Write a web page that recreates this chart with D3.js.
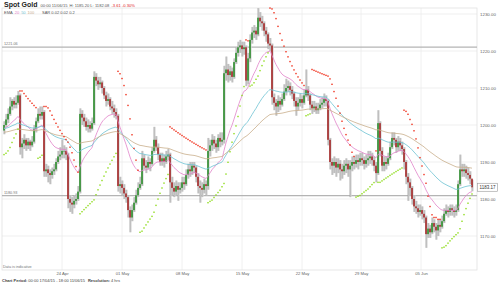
<!DOCTYPE html>
<html><head><meta charset="utf-8">
<script src="https://cdn.jsdelivr.net/npm/d3@7"></script>
<style>body{margin:0;background:#fff}svg{display:block}text{font-family:"Liberation Sans",Arial,sans-serif}</style>
</head><body><svg id="c" width="500" height="285"></svg>
<script>
// ---- data (Spot Gold, 4-hour bars) ----
const closes = [
1200.0,1201.5,1203.0,1205.0,1206.5,1205.5,1206.0,1208.0,1194.0,1195.0,
1196.0,1194.5,1195.5,1194.5,1195.5,1199.0,1201.0,1203.0,1202.5,1203.5,
1187.5,1188.0,1187.0,1186.5,1187.5,1188.0,1190.0,1191.5,1192.0,1193.0,
1193.0,1192.0,1180.0,1179.0,1178.5,1179.5,1180.0,1182.0,1203.0,1202.0,
1201.0,1199.5,1200.0,1199.0,1200.5,1213.0,1212.0,1211.0,1211.5,1210.0,
1208.0,1206.5,1207.0,1205.0,1204.5,1203.5,1202.5,1183.5,1184.0,1183.0,
1181.5,1180.5,1177.0,1175.0,1177.0,1179.0,1181.0,1183.0,1184.0,1191.0,
1189.0,1188.5,1190.0,1189.5,1193.0,1196.0,1194.0,1192.0,1190.0,1191.0,
1190.0,1191.5,1192.0,1184.5,1183.0,1182.0,1183.5,1182.5,1183.0,1184.5,
1184.0,1186.5,1188.0,1187.5,1189.0,1188.5,1186.0,1183.5,1183.0,1182.5,
1184.0,1183.5,1193.0,1194.5,1196.0,1195.0,1194.0,1196.5,1195.5,1196.0,
1214.0,1215.0,1213.5,1214.5,1213.0,1217.0,1219.5,1221.0,1221.5,1220.5,
1221.0,1212.0,1218.0,1223.0,1225.0,1225.5,1224.5,1229.0,1228.0,1227.5,
1225.5,1224.5,1222.0,1221.5,1207.5,1206.0,1205.0,1206.5,1205.5,1207.0,
1209.0,1210.0,1210.5,1209.5,1208.5,1206.5,1205.0,1206.0,1207.0,1206.0,
1208.0,1209.5,1208.0,1205.5,1204.5,1205.0,1204.0,1204.5,1205.5,1206.0,
1207.0,1206.5,1196.0,1190.0,1189.0,1190.0,1188.5,1189.5,1188.0,1187.5,
1189.0,1189.5,1188.0,1189.0,1190.0,1189.5,1190.5,1190.0,1191.0,1190.5,
1189.5,1190.5,1191.0,1191.5,1190.5,1189.0,1187.0,1200.5,1193.0,1189.0,
1190.0,1189.5,1191.0,1194.0,1196.5,1196.0,1194.0,1195.5,1194.5,1193.5,
1190.0,1186.0,1184.5,1183.0,1180.0,1178.0,1177.5,1176.5,1177.0,1176.0,
1175.0,1170.5,1172.0,1171.0,1173.5,1172.5,1171.5,1173.0,1172.5,1174.0,
1176.0,1177.0,1176.5,1177.5,1177.0,1176.5,1177.0,1184.0,1188.0,1187.5,
1188.0,1187.0,1186.5,1185.5,1183.17];
const highs = [
1201.0,1203.0,1204.5,1207.5,1207.0,1207.5,1208.0,1209.2,1208.5,1196.5,
1197.5,1196.5,1196.5,1196.0,1197.0,1200.0,1202.0,1204.5,1205.0,1205.0,
1204.0,1189.5,1189.0,1188.0,1188.5,1189.5,1191.0,1193.0,1194.0,1196.0,
1194.5,1194.0,1192.5,1181.0,1180.5,1181.0,1181.5,1183.5,1204.5,1204.0,
1203.0,1202.0,1201.5,1201.0,1202.0,1214.5,1214.0,1213.0,1213.0,1212.0,
1210.5,1209.0,1208.5,1207.5,1206.5,1205.5,1204.5,1203.0,1186.0,1185.0,
1184.0,1182.5,1181.0,1178.0,1178.5,1180.5,1182.5,1184.5,1186.0,1193.0,
1192.0,1190.5,1191.5,1191.0,1194.0,1199.5,1197.0,1195.0,1192.5,1192.5,
1192.0,1193.0,1193.5,1192.5,1186.0,1184.5,1185.0,1184.5,1184.5,1186.0,
1186.0,1188.0,1189.5,1190.0,1190.0,1190.0,1189.0,1187.0,1185.0,1184.5,
1185.5,1185.0,1196.5,1196.0,1197.5,1197.0,1196.0,1197.5,1198.0,1198.0,
1216.0,1218.5,1216.5,1216.0,1215.5,1218.0,1221.0,1222.5,1223.0,1222.5,
1222.5,1221.5,1219.5,1224.5,1226.5,1227.0,1226.5,1231.6,1230.5,1229.5,
1228.0,1226.5,1225.0,1223.5,1222.0,1208.5,1207.0,1208.0,1207.5,1208.5,
1211.0,1212.5,1212.0,1211.5,1210.5,1209.0,1207.5,1207.5,1208.5,1208.0,
1209.5,1215.0,1210.5,1208.5,1206.5,1206.5,1206.0,1206.0,1207.0,1207.5,
1208.5,1208.0,1207.0,1196.5,1191.0,1191.5,1191.0,1191.0,1190.5,1189.5,
1190.5,1191.0,1190.5,1190.5,1191.5,1191.5,1192.0,1192.0,1192.5,1192.5,
1191.5,1192.0,1193.0,1193.0,1192.5,1191.5,1190.0,1204.0,1201.0,1194.0,
1191.5,1191.5,1192.5,1195.5,1198.0,1198.0,1196.5,1197.0,1196.5,1195.5,
1194.0,1190.5,1187.0,1185.5,1183.5,1181.0,1179.5,1178.5,1178.5,1178.0,
1177.0,1175.5,1173.5,1173.0,1175.0,1174.5,1173.5,1174.5,1174.5,1175.5,
1177.5,1178.5,1178.0,1178.5,1178.5,1178.0,1178.5,1185.0,1192.0,1189.5,
1189.5,1189.0,1188.5,1187.5,1185.20];
const lows = [
1197.5,1199.5,1200.5,1202.5,1204.0,1204.5,1204.5,1205.5,1192.0,1191.0,
1193.5,1193.0,1193.5,1193.0,1194.0,1195.0,1198.0,1200.5,1201.5,1201.5,
1186.0,1186.0,1184.5,1184.0,1185.5,1186.5,1187.5,1189.5,1190.5,1191.0,
1191.0,1190.5,1177.5,1176.5,1176.0,1177.5,1178.5,1179.5,1181.5,1200.0,
1199.5,1198.5,1198.0,1198.0,1198.5,1200.0,1210.5,1209.5,1210.0,1208.5,
1207.0,1205.0,1205.5,1204.0,1203.0,1202.0,1201.5,1182.0,1181.5,1181.0,
1180.0,1179.0,1175.0,1171.0,1174.0,1176.5,1178.5,1180.5,1182.5,1183.5,
1188.0,1187.0,1188.0,1187.5,1189.0,1192.5,1193.0,1190.5,1189.0,1189.0,
1188.5,1189.5,1190.5,1179.0,1181.0,1180.5,1181.0,1179.5,1181.5,1182.0,
1182.5,1183.5,1185.5,1186.0,1186.5,1187.0,1184.5,1181.5,1179.0,1180.5,
1181.5,1181.0,1182.5,1191.5,1193.0,1193.5,1192.5,1193.0,1194.0,1194.5,
1195.0,1212.0,1211.5,1212.0,1211.5,1212.5,1216.5,1218.5,1219.5,1218.5,
1219.0,1210.5,1211.0,1217.0,1222.0,1223.5,1223.0,1224.0,1226.5,1225.5,
1224.0,1222.5,1220.5,1220.0,1205.5,1204.0,1202.5,1203.5,1204.0,1205.0,
1206.5,1208.0,1209.0,1208.0,1207.0,1205.0,1202.5,1204.0,1205.0,1204.5,
1205.5,1207.5,1206.5,1204.0,1203.0,1203.5,1203.0,1203.0,1204.0,1204.5,
1205.0,1205.0,1194.5,1188.0,1186.5,1187.0,1186.0,1187.0,1185.0,1185.5,
1186.5,1187.0,1186.0,1180.5,1187.5,1188.0,1188.5,1188.0,1189.0,1189.0,
1188.0,1188.5,1189.0,1189.5,1189.0,1187.5,1184.5,1186.5,1191.5,1187.5,
1187.5,1188.0,1189.0,1190.5,1193.5,1194.5,1192.5,1193.0,1193.0,1192.0,
1188.0,1184.0,1179.5,1181.0,1178.5,1176.5,1176.0,1175.0,1175.5,1174.5,
1173.5,1166.8,1169.5,1169.5,1170.5,1171.0,1169.0,1170.0,1171.0,1172.0,
1173.5,1175.5,1175.0,1175.5,1175.5,1175.0,1175.5,1176.5,1183.5,1186.0,
1186.0,1185.5,1185.0,1184.0,1182.08];
const firstOpen = 1198.5;
const tickIndex = [29, 59, 89, 119, 149, 178.5, 208.5];
const tickLabels = ["24 Apr","01 May","08 May","15 May","22 May","29 May","05 Jun"];
const yTicks = [1170, 1180, 1190, 1200, 1210, 1220, 1230];
const refLines = [1221.06, 1180.93];
const emaPeriods = [20, 50, 100];
const emaSeeds = [1199.0, 1199.0, 1198.0];
const sarStart = 0.02, sarStep = 0.02, sarMax = 0.2;
const sarInit = {sar: 1192.0, ep: 1201.0, af: 0.04, up: true};
const lastPrice = "1183.17";

// ---- layout ----
const svg = d3.select("#c");
const L = 2, R = 477, T = 8, B = 270;
const N = closes.length;
const opens = [firstOpen].concat(closes.slice(0, N - 1));
const bars = closes.map((c, i) => ({i, o: opens[i], h: highs[i], l: lows[i], c}));

const x = d3.scaleLinear().domain([0, N - 1]).range([4, 4 + 2 * (N - 1)]);
const y = d3.scaleLinear().domain([1160.81, 1231.62]).range([B, T]);

// background grid
const g = svg.append("g");
g.selectAll(".hg").data(yTicks).join("line")
  .attr("x1", L).attr("x2", R).attr("y1", d => y(d)).attr("y2", d => y(d))
  .attr("stroke", "#ececec").attr("stroke-width", 0.8);
g.selectAll(".vg").data(tickIndex).join("line")
  .attr("x1", d => x(d)).attr("x2", d => x(d)).attr("y1", T).attr("y2", B)
  .attr("stroke", "#ececec").attr("stroke-width", 0.8);
g.append("rect").attr("x", L).attr("y", T).attr("width", R - L).attr("height", B - T)
  .attr("fill", "none").attr("stroke", "#e2e2e2").attr("stroke-width", 0.8);

// reference lines
g.selectAll(".rl").data(refLines).join("line")
  .attr("x1", L).attr("x2", R).attr("y1", d => y(d)).attr("y2", d => y(d))
  .attr("stroke", "#b4b4b4").attr("stroke-width", 1.3);
g.selectAll(".rt").data(refLines).join("text")
  .attr("x", 4).attr("y", d => y(d) - 2).attr("font-size", 3.8).attr("fill", "#777")
  .text(d => d.toFixed(2));

// y axis labels (right)
const yAxis = d3.axisRight(y).tickValues(yTicks).tickSize(0).tickFormat(d3.format(".2f"));
const ya = svg.append("g").attr("transform", `translate(${R + 1},0)`).call(yAxis);
ya.select(".domain").remove();
ya.selectAll("text").attr("font-size", 4.4).attr("fill", "#666").attr("x", 2)
  .attr("font-family", '"Liberation Sans",Arial,sans-serif');

// x axis labels
const xAxis = d3.axisBottom(x).tickValues(tickIndex).tickSize(0)
  .tickFormat((d, k) => tickLabels[k]);
const xa = svg.append("g").attr("transform", `translate(0,${B})`).call(xAxis);
xa.select(".domain").remove();
xa.selectAll("text").attr("font-size", 4.2).attr("fill", "#666").attr("y", 2)
  .attr("font-family", '"Liberation Sans",Arial,sans-serif');

// candles
const cg = svg.append("g");
cg.selectAll(".sh").data(bars).join("rect")
  .attr("x", d => x(d.i) - 0.2).attr("width", 1.8)
  .attr("y", d => y(d.h)).attr("height", d => Math.max(0.5, y(d.l) - y(d.h)))
  .attr("fill", "#d6d6d6");
cg.selectAll(".wk").data(bars).join("line")
  .attr("x1", d => x(d.i)).attr("x2", d => x(d.i))
  .attr("y1", d => y(d.h)).attr("y2", d => y(d.l))
  .attr("stroke", "#8c8c8c").attr("stroke-width", 0.6);
cg.selectAll(".bd").data(bars).join("rect")
  .attr("x", d => x(d.i) - 0.75).attr("width", 1.5)
  .attr("y", d => y(Math.max(d.o, d.c)))
  .attr("height", d => Math.max(0.6, Math.abs(y(d.o) - y(d.c))))
  .attr("fill", d => d.c >= d.o ? "#238a23" : "#a41c1c");

// EMAs
const emaColors = ["#e183c9", "#6dc3d3", "#c9ae8c"];
emaPeriods.forEach((p, k) => {
  const a = 2 / (p + 1);
  let e = emaSeeds[k];
  const vals = closes.map(c => (e = e + a * (c - e)));
  svg.append("path").datum(vals)
    .attr("d", d3.line().x((v, i) => x(i)).y(v => y(v)).curve(d3.curveMonotoneX))
    .attr("fill", "none").attr("stroke", emaColors[k]).attr("stroke-width", 0.8);
});

// Parabolic SAR
const sarPts = [];
{
  let {sar, ep, af, up} = sarInit;
  sarPts.push({i: 0, v: sar, up});
  for (let i = 1; i < N; i++) {
    sar = sar + af * (ep - sar);
    if (up) {
      sar = Math.min(sar, lows[i - 1], i > 1 ? lows[i - 2] : lows[i - 1]);
      if (lows[i] < sar) { up = false; sar = ep; ep = lows[i]; af = sarStart; }
      else if (highs[i] > ep) { ep = highs[i]; af = Math.min(af + sarStep, sarMax); }
    } else {
      sar = Math.max(sar, highs[i - 1], i > 1 ? highs[i - 2] : highs[i - 1]);
      if (highs[i] > sar) { up = true; sar = ep; ep = highs[i]; af = sarStart; }
      else if (lows[i] < ep) { ep = lows[i]; af = Math.min(af + sarStep, sarMax); }
    }
    sarPts.push({i, v: sar, up});
  }
}
svg.append("g").selectAll("rect").data(sarPts.filter(d => y(d.v) > T && y(d.v) < B)).join("rect")
  .attr("x", d => x(d.i) - 0.7).attr("y", d => y(d.v) - 0.7).attr("width", 1.4).attr("height", 1.4)
  .attr("fill", d => d.up ? "#8fdc1c" : "#f0301c");

// last price box
const lp = y(+lastPrice);
svg.append("rect").attr("x", R + 0.5).attr("y", lp - 4).attr("width", 20).attr("height", 8)
  .attr("fill", "#fff").attr("stroke", "#999").attr("stroke-width", 0.6);
svg.append("text").attr("x", R + 2.5).attr("y", lp + 1.6).attr("font-size", 4.5).attr("fill", "#333").text(lastPrice);

// title
const t = svg.append("text").attr("x", 4).attr("y", 6.6);
t.append("tspan").attr("font-size", 7).attr("font-weight", "bold").attr("fill", "#222").text("Spot Gold");
t.append("tspan").attr("dx", 3).attr("font-size", 4.1).attr("fill", "#555").text("00:00 11/06/15");
t.append("tspan").attr("dx", 2).attr("font-size", 4.1).attr("fill", "#555").text("H: 1185.20  L: 1182.08");
t.append("tspan").attr("dx", 2).attr("font-size", 4.1).attr("fill", "#e02020").text("-3.61  -0.30%");

// legend
const lg = svg.append("text").attr("x", 4).attr("y", 14).attr("font-size", 4);
lg.append("tspan").attr("fill", "#555").text("EMA");
lg.append("tspan").attr("dx", 2).attr("fill", emaColors[0]).text("20");
lg.append("tspan").attr("dx", 2).attr("fill", emaColors[1]).text("50");
lg.append("tspan").attr("dx", 2).attr("fill", emaColors[2]).text("100");
svg.append("text").attr("x", 42).attr("y", 14).attr("font-size", 4).attr("fill", "#555")
  .text("SAR  0.02  0.02  0.2");

// footer
svg.append("text").attr("x", 3).attr("y", 268).attr("font-size", 3.8).attr("fill", "#777").text("Data is indicative");
const f = svg.append("text").attr("x", 2).attr("y", 282).attr("font-size", 4).attr("fill", "#444");
f.append("tspan").attr("font-weight", "bold").text("Chart Period:");
f.append("tspan").attr("dx", 1).text("00:00 17/04/15 - 18:00 11/06/15");
f.append("tspan").attr("dx", 3).attr("font-weight", "bold").text("Resolution:");
f.append("tspan").attr("dx", 1).text("4 hrs");
</script></body></html>
